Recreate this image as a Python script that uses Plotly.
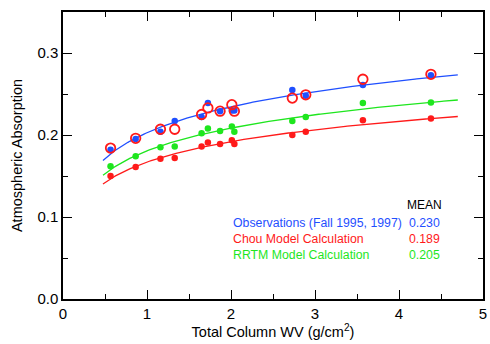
import numpy as np
import plotly.graph_objects as go

# Data
wv = [0.566, 0.865, 1.16, 1.33, 1.65, 1.725, 1.87, 2.01, 2.04, 2.73, 2.89, 3.57, 4.38]
obs_filled = [0.182, 0.195, 0.204, 0.217, 0.222, 0.239, 0.229, 0.230, 0.230, 0.255, 0.248, 0.261, 0.273]
obs_open = [0.184, 0.196, 0.207, 0.207, 0.225, 0.233, 0.229, 0.237, 0.229, 0.245, 0.249, 0.268, 0.274]
chou = [0.150, 0.161, 0.171, 0.172, 0.186, 0.191, 0.189, 0.1935, 0.189, 0.200, 0.204, 0.218, 0.220]
rrtm = [0.162, 0.174, 0.185, 0.186, 0.202, 0.208, 0.205, 0.2105, 0.204, 0.217, 0.222, 0.239, 0.2395]

legend_labels = ["Observations (Fall 1995, 1997)", "Chou Model Calculation", "RRTM Model Calculation"]
legend_means = ["0.230", "0.189", "0.205"]

BLUE = "#1f4fff"
RED = "#ff1a1a"
GREEN = "#1ee61e"
FONT = "Liberation Sans, Arial, Helvetica, sans-serif"

fit_x_range = [0.476, 4.7]
xf = np.linspace(fit_x_range[0], fit_x_range[1], 200)


def logfit(x, y):
    b, a = np.polyfit(np.log(np.asarray(x)), np.asarray(y), 1)
    return a + b * np.log(xf)


fig = go.Figure()
for ys, col in [(obs_filled + obs_open, BLUE), (chou, RED), (rrtm, GREEN)]:
    xs = wv * (len(ys) // len(wv))
    fig.add_trace(go.Scatter(x=xf, y=logfit(xs, ys), mode="lines",
                             line=dict(color=col, width=1.3), hoverinfo="skip"))

for ys, col in [(obs_filled, BLUE), (chou, RED), (rrtm, GREEN)]:
    fig.add_trace(go.Scatter(x=wv, y=ys, mode="markers",
                             marker=dict(color=col, size=6.5, line=dict(width=0))))

fig.add_trace(go.Scatter(x=wv, y=obs_open, mode="markers",
                         marker=dict(symbol="circle-open", color=RED, size=9.5,
                                     line=dict(width=1.8, color=RED))))

# Legend block as text (plot domain: x 63..487 px, y 12..299 px)
def dx(px):
    return (px - 63) / 424


def dy(py):
    return (299 - py) / 287


fig.add_annotation(x=dx(428), y=dy(205), xref="x domain", yref="y domain", text="MEAN",
                   showarrow=False, xanchor="center", yanchor="middle",
                   font=dict(size=12, color="black", family=FONT))
cols = [BLUE, RED, GREEN]
ys_px = [222.5, 238.5, 254.5]
for lab, m, c, yp in zip(legend_labels, legend_means, cols, ys_px):
    fig.add_annotation(x=dx(233), y=dy(yp), xref="x domain", yref="y domain",
                       text=lab, showarrow=False, xanchor="left", yanchor="middle",
                       font=dict(size=12.3, color=c, family=FONT))
    fig.add_annotation(x=dx(428), y=dy(yp), xref="x domain", yref="y domain",
                       text=m, showarrow=False, xanchor="center", yanchor="middle",
                       font=dict(size=12.3, color=c, family=FONT))

axis_common = dict(showline=True, linecolor="black", linewidth=1.5, mirror="ticks",
                   ticks="inside", ticklen=9, tickwidth=1.2, tickcolor="black",
                   showgrid=False, zeroline=False,
                   tickfont=dict(size=15, color="black", family=FONT))

fig.update_xaxes(range=[0, 5], dtick=1, tickformat="d",
                 minor=dict(ticks="inside", ticklen=5, dtick=0.5, tickcolor="black", tickwidth=1),
                 title=dict(text="Total Column WV (g/cm<sup>2</sup>)", standoff=4,
                            font=dict(size=14.5, color="black", family=FONT)),
                 **axis_common)
fig.update_yaxes(range=[0, 0.35], dtick=0.1, tickformat=".1f",
                 minor=dict(ticks="inside", ticklen=5, dtick=0.05, tickcolor="black", tickwidth=1),
                 title=dict(text="Atmospheric Absorption", standoff=11,
                            font=dict(size=14.5, color="black", family=FONT)),
                 **axis_common)

fig.update_layout(width=490, height=344, margin=dict(l=63, r=3, t=12, b=45),
                  paper_bgcolor="white", plot_bgcolor="white", showlegend=False,
                  font=dict(family=FONT, color="black"))

fig.write_html("out.html")
